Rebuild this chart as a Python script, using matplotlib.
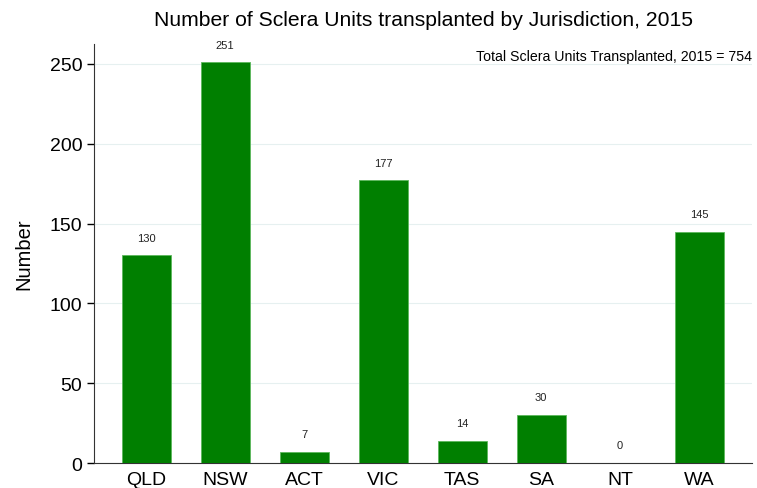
import matplotlib
matplotlib.use("Agg")
import matplotlib.pyplot as plt

plt.rcParams['font.family'] = ['Liberation Sans', 'DejaVu Sans']

states = ["QLD", "NSW", "ACT", "VIC", "TAS", "SA", "NT", "WA"]
units = [130, 251, 7, 177, 14, 30, 0, 145]
yticks = [0, 50, 100, 150, 200, 250]
total = 754

fig = plt.figure(figsize=(7.57, 4.89), dpi=100)
ax = fig.add_axes([0.1242, 0.0511, 0.8692, 0.857])

x = range(len(states))
ax.bar(x, units, width=0.62, color="#007f00", edgecolor="#5cb85c", linewidth=0.6, zorder=3)
for i, v in zip(x, units):
    ax.text(i, v + 8, str(v), ha="center", va="bottom", fontsize=8, color="#222222")

ax.set_xlim(-0.66, 7.67)
ax.set_ylim(0, 262.5)
ax.set_xticks(list(x))
ax.set_xticklabels(states, fontsize=14)
ax.set_yticks(yticks)
ax.tick_params(axis="y", labelsize=14, length=5, width=1)
ax.tick_params(axis="x", length=0, pad=6)
ax.yaxis.grid(True, color="#e6f0f0", linewidth=0.8, zorder=0)
ax.spines["top"].set_visible(False)
ax.spines["right"].set_visible(False)
ax.spines["left"].set_color("#333333")
ax.spines["bottom"].set_color("#333333")
ax.set_ylabel("Number", fontsize=14.5, labelpad=12)

ax.text(1.0, 0.972, "Total Sclera Units Transplanted, 2015 = %d" % total,
        transform=ax.transAxes, ha="right", va="center", fontsize=10.2)
fig.suptitle("Number of Sclera Units transplanted by Jurisdiction, 2015",
             x=0.559, y=0.978, fontsize=15.2)

fig.savefig("out.png", dpi=100)
